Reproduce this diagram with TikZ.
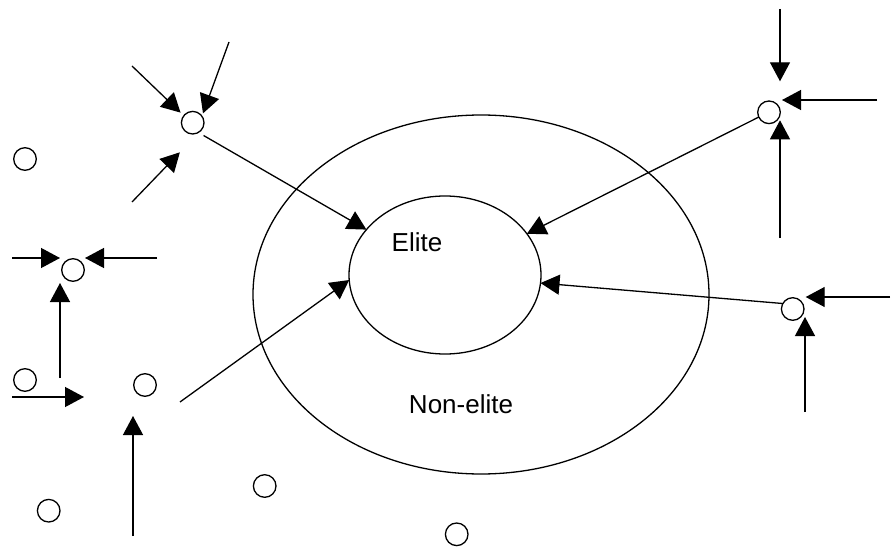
\documentclass[tikz,border=0pt]{standalone}
\usepackage{fontspec}
\setmainfont{Liberation Sans}
\usetikzlibrary{arrows.meta,shapes.geometric}
\begin{document}
\begin{tikzpicture}[x=1pt,y=-1pt,line width=1.3pt,
  dot/.style={draw,circle,minimum size=22.6pt,inner sep=0pt,outer sep=0pt},
  ring/.style={draw,ellipse,inner sep=0pt,outer sep=0pt},
  arr/.style={-{Triangle[length=19pt,width=20pt]}},
  lbl/.style={font=\fontsize{26pt}{30pt}\selectfont,anchor=base,inner sep=0pt}]
\useasboundingbox (0,0) rectangle (891,548);
%\draw[step=50,gray,very thin] (0,0) grid (891,548); %background grid
\node[ring,minimum width=456pt,minimum height=359pt] (nonelite) at (481,294.5) {};
\node[ring,minimum width=192pt,minimum height=158pt] (elite) at (445,275) {};
\node[lbl] (elitetxt) at (417,251) {Elite};
\node[lbl] (nonelitetxt) at (461,413) {Non-elite};
\node[dot] (A) at (192.7,122.7) {};
\node[dot] (L) at (25,159) {};
\node[dot] (B) at (73,270) {};
\node[dot] (C) at (25,380) {};
\node[dot] (D) at (145,385) {};
\node[dot] (E) at (48.7,510.7) {};
\node[dot] (F) at (264.7,486) {};
\node[dot] (G) at (456.7,534.3) {};
\node[dot] (H) at (769,112.3) {};
\node[dot] (I) at (792.7,309) {};
\coordinate (a1) at (132,66);
\coordinate (a2) at (229,42);
\coordinate (a3) at (132,202);
\coordinate (b1) at (12,258);
\coordinate (b2) at (157,258);
\coordinate (b3) at (60,378);
\coordinate (c1) at (12,397);
\coordinate (c2) at (84,397);
\coordinate (d1) at (133,536);
\coordinate (f1) at (180,402);
\coordinate (h1) at (780,9);
\coordinate (h2) at (877,100);
\coordinate (h3) at (780,238);
\coordinate (i1) at (890,297);
\coordinate (i2) at (805,412);
% into the elite
\draw[arr,shorten <=6pt] (A.-60) -- (elite);
\draw[arr] (H.205) -- (elite);
\draw[arr] (I.151) -- (elite);
\draw[arr] (f1) -- (elite.183);
% around the outsiders
\draw[arr,shorten >=4.5pt] (a1) -- (A.142);
\draw[arr,shorten >=3pt] (a2) -- (A.35);
\draw[arr,shorten >=30pt] (a3) -- (A.-45);
\draw[arr,shorten >=13pt] (b1) -- (b1 -| B);
\draw[arr,shorten >=12pt] (b2) -- (b2 -| B);
\draw[arr,shorten >=13pt] (b3) -- (b3 |- B);
\draw[arr] (c1) -- (c2);
\draw[arr,shorten >=31pt] (d1) -- (d1 |- D);
\draw[arr,shorten >=31pt] (h1) -- (h1 |- H);
\draw[arr,shorten >=13pt] (h2) -- (h2 -| H);
\draw[arr,shorten >=8pt] (h3) -- (h3 |- H);
\draw[arr,shorten >=13pt] (i1) -- (i1 -| I);
\draw[arr,shorten >=8pt] (i2) -- (i2 |- I);
\end{tikzpicture}
\end{document}
